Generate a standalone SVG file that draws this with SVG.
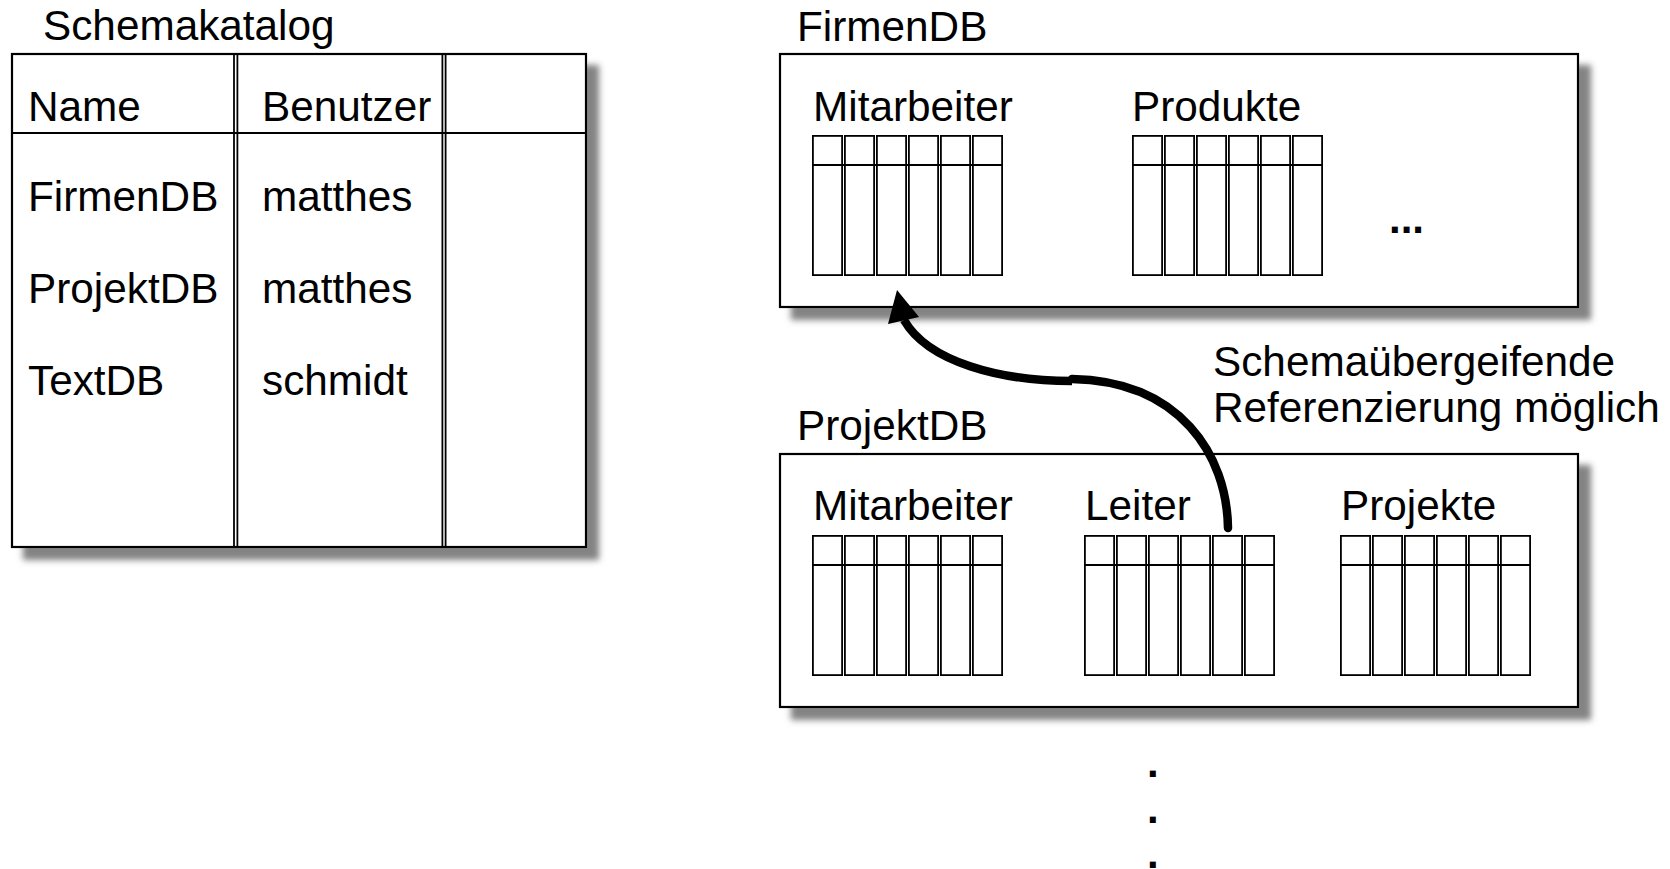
<svg xmlns="http://www.w3.org/2000/svg" xmlns:xlink="http://www.w3.org/1999/xlink" width="1670" height="869" viewBox="0 0 1670 869">
<style>
  .t { font-family: "Liberation Sans", Arial, Helvetica, sans-serif; font-size: 42.3px; fill: #000; }
  .dots { font-family: "Liberation Sans", Arial, sans-serif; font-size: 42px; font-weight: bold; fill: #000; }
  .box { fill: #fff; stroke: #000; stroke-width: 2.2; }
  .ln { stroke: #000; stroke-width: 1.8; fill: none; }
  .col { fill: #fff; stroke: #000; stroke-width: 1.8; }
</style>
<defs>
  <filter id="shadow" x="-10%" y="-10%" width="130%" height="130%">
    <feOffset in="SourceAlpha" dx="12" dy="12" result="o"/>
    <feGaussianBlur in="o" stdDeviation="3" result="b"/>
    <feFlood flood-color="#838383"/>
    <feComposite in2="b" operator="in" result="s"/>
    <feMerge><feMergeNode in="s"/><feMergeNode in="SourceGraphic"/></feMerge>
  </filter>
  <g id="tbl">
    <rect class="col" x="0.9" y="0.9" width="29.2" height="139.2"/>
    <rect class="col" x="32.9" y="0.9" width="29.2" height="139.2"/>
    <rect class="col" x="64.9" y="0.9" width="29.2" height="139.2"/>
    <rect class="col" x="96.9" y="0.9" width="29.2" height="139.2"/>
    <rect class="col" x="128.9" y="0.9" width="29.2" height="139.2"/>
    <rect class="col" x="160.9" y="0.9" width="29.2" height="139.2"/>
    <line class="ln" x1="0" y1="30" x2="191" y2="30"/>
  </g>
</defs>
<rect width="1670" height="869" fill="#fff"/>

<g id="schemakatalog">
  <text class="t" x="43" y="40">Schemakatalog</text>
  <rect class="box" x="12" y="54" width="574" height="493" filter="url(#shadow)"/>
  <line class="ln" x1="12" y1="133" x2="586" y2="133"/>
  <line class="ln" x1="234" y1="54" x2="234" y2="547"/>
  <line class="ln" x1="237.4" y1="54" x2="237.4" y2="547"/>
  <line class="ln" x1="442.4" y1="54" x2="442.4" y2="547"/>
  <line class="ln" x1="445.6" y1="54" x2="445.6" y2="547"/>
  <text class="t" x="28" y="121">Name</text>
  <text class="t" x="262" y="121">Benutzer</text>
  <text class="t" x="28" y="211">FirmenDB</text>
  <text class="t" x="262" y="211">matthes</text>
  <text class="t" x="28" y="303">ProjektDB</text>
  <text class="t" x="262" y="303">matthes</text>
  <text class="t" x="28" y="395">TextDB</text>
  <text class="t" x="262" y="395">schmidt</text>
</g>

<g id="firmendb">
  <text class="t" x="797" y="41">FirmenDB</text>
  <rect class="box" x="780" y="54" width="798" height="253" filter="url(#shadow)"/>
  <text class="t" x="813" y="121">Mitarbeiter</text>
  <use xlink:href="#tbl" x="812" y="135"/>
  <text class="t" x="1132" y="121">Produkte</text>
  <use xlink:href="#tbl" x="1132" y="135"/>
  <text class="dots" x="1389" y="233">...</text>
</g>

<g id="projektdb">
  <text class="t" x="797" y="440">ProjektDB</text>
  <rect class="box" x="780" y="454" width="798" height="253" filter="url(#shadow)"/>
  <text class="t" x="813" y="520">Mitarbeiter</text>
  <use xlink:href="#tbl" x="812" y="535"/>
  <text class="t" x="1085" y="520">Leiter</text>
  <use xlink:href="#tbl" x="1084" y="535"/>
  <text class="t" x="1341" y="520">Projekte</text>
  <use xlink:href="#tbl" x="1340" y="535"/>
</g>

<g id="connectors">
  <path d="M 1228 528 C 1227 455, 1180 381, 1072 379" fill="none" stroke="#000" stroke-width="8.5" stroke-linecap="round"/>
  <path d="M 1072 381 C 1000 381, 928 362, 904 320" fill="none" stroke="#000" stroke-width="8.5"/>
  <polygon points="897,290 888,324 919,317" fill="#000"/>
  <text class="t" x="1213" y="376">Schemaübergeifende</text>
  <text class="t" x="1213" y="422">Referenzierung möglich</text>
</g>

<g id="continuation">
  <text class="dots" x="1147" y="777">.</text>
  <text class="dots" x="1147" y="823">.</text>
  <text class="dots" x="1147" y="868">.</text>
</g>
</svg>
